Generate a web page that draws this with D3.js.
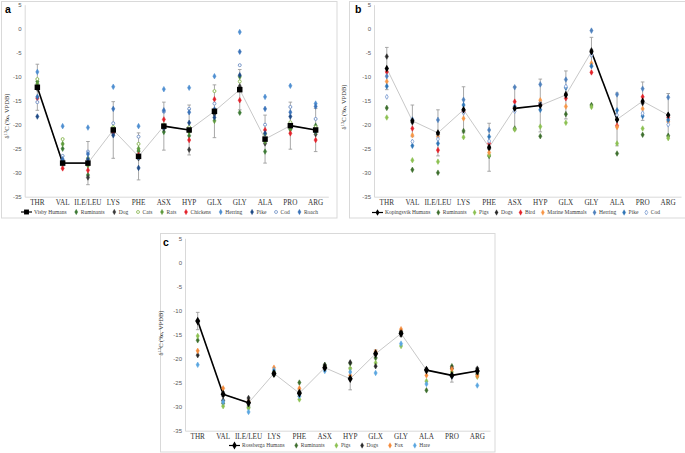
<!DOCTYPE html>
<html><head><meta charset="utf-8">
<script src="https://cdn.jsdelivr.net/npm/d3@7"></script>
<style>body{margin:0;background:#fff}svg{display:block}</style>
</head><body>
<svg id="chart" width="685" height="453"></svg>
<script>
// ---------- DATA ----------
const aminoAcids = ["THR","VAL","ILE/LEU","LYS","PHE","ASX","HYP","GLX","GLY","ALA","PRO","ARG"];
const yTicks = [5,0,-5,-10,-15,-20,-25,-30,-35];

// Panel a (Visby)
const visbyHumans   = [-12.2,-28.0,-28.0,-21.1,-26.6,-20.3,-21.1,-17.2,-12.7,-23.0,-20.2,-21.1];
const visbyHumansSD = [4.8,0.6,4.5,5.9,4.9,5.0,5.2,5.5,4.2,5.0,4.9,4.5];
const visbySolidSegments = [0,1,5,10];
const aRuminants = [-11.0,-25.0,-30.5,-20.7,-25.5,-21.5,-22.3,-17.5,-17.5,-25.6,-21.0,-20.2];
const aDog       = [-12.5,-27.5,-31.0,-21.8,-27.0,-20.8,-25.2,-17.8,-12.0,-23.9,-20.5,-22.0];
const aCats      = [-10.5,-23.0,-27.0,-20.5,-24.0,-20.0,-20.5,-13.0,-11.0,-22.0,-19.5,-20.5];
const aRats      = [-11.5,-24.0,-28.5,-21.0,-25.0,-20.5,-21.5,-19.2,-10.0,-23.5,-20.8,-21.5];
const aChickens  = [-14.5,-29.1,-29.5,-21.5,-26.3,-18.9,-23.2,-14.7,-14.9,-21.1,-21.8,-23.2];
const aHerring   = [-9.0,-20.3,-20.6,-12.1,-20.3,-12.6,-12.3,-9.9,-0.7,-14.2,-11.9,-15.6];
const aPike      = [-18.3,-27.8,-27.2,-22.2,-29.0,-20.6,-19.6,-18.5,-9.7,-21.8,-18.3,-21.3];
const aCod       = [-15.3,-26.5,-25.6,-19.7,-22.5,-17.3,-16.7,-15.6,-7.6,-20.0,-16.3,-18.8];
const aRoach     = [-14.2,-27.2,-26.1,-16.7,-26.8,-17.0,-17.4,-16.8,-4.8,-16.7,-17.4,-16.2];

// Panel b (Kopingsvik)
const kopHumans   = [-8.3,-19.2,-21.7,-16.9,-24.7,-16.6,-16.0,-13.8,-4.8,-18.9,-15.1,-18.0];
const kopHumansSD = [4.4,3.3,4.8,4.8,5.0,4.5,5.5,5.0,3.0,5.5,4.0,4.5];
const kopSolidSegments = [5,8];
const bRuminants = [-16.5,-29.4,-30.0,-21.3,-26.5,-20.8,-22.4,-17.8,-15.9,-26.0,-22.1,-22.3];
const bPigs      = [-18.5,-27.4,-27.7,-22.6,-26.3,-21.0,-20.4,-19.6,-16.3,-23.9,-20.8,-22.8];
const bDogs      = [-5.8,-19.5,-22.0,-17.0,-25.0,-16.5,-15.5,-13.6,-4.5,-19.0,-15.5,-18.0];
const bBird      = [-9.0,-20.8,-25.3,-17.3,-23.9,-15.2,-15.8,-14.5,-9.1,-20.2,-14.2,-18.5];
const bMarine    = [-11.0,-22.2,-22.5,-18.7,-25.8,-16.4,-14.9,-16.2,-7.2,-20.5,-16.7,-19.4];
const bHerring   = [-9.9,-18.9,-19.0,-14.8,-21.1,-12.2,-11.6,-10.6,-0.4,-13.7,-12.5,-14.3];
const bPike      = [-12.0,-24.4,-23.9,-15.9,-22.5,-16.2,-16.9,-12.3,-7.8,-17.0,-18.2,-19.0];
const bCod       = [-14.2,-23.5,-23.0,-17.5,-23.4,-17.2,-15.7,-12.0,-5.5,-18.0,-17.6,-20.0];

// Panel c (Rossberga)
const rosHumans   = [-12.2,-27.4,-29.2,-23.1,-27.2,-21.9,-24.2,-19.0,-14.8,-22.4,-23.5,-22.6];
const rosHumansSD = [1.8,0.5,0.6,0.5,0.7,0.4,2.3,0.8,0.6,0.4,1.4,0.7];
const rosSolidSegments = [0,1,9,10];
const cRuminants = [-16.2,-29.3,-30.1,-23.3,-25.0,-21.3,-21.0,-19.9,-14.6,-26.6,-21.6,-23.2];
const cPigs      = [-15.3,-29.9,-30.3,-22.8,-28.5,-21.6,-22.1,-20.9,-17.4,-24.7,-22.8,-23.8];
const cDogs      = [-19.3,-28.7,-28.2,-23.3,-27.0,-21.4,-20.8,-21.6,-14.4,-22.3,-22.0,-22.1];
const cFox       = [-18.4,-26.2,-29.0,-21.9,-26.2,-21.9,-23.5,-18.6,-13.9,-23.5,-22.2,-23.6];
const cHare      = [-21.3,-29.0,-31.1,-22.4,-27.8,-22.6,-22.8,-23.0,-16.9,-25.3,-23.7,-25.6];

// ---------- DRAW ----------
const svg = d3.select("#chart");
const serif = "'Liberation Serif','Times New Roman',serif";
const sans = "'Liberation Sans',Arial,sans-serif";

const panels = [
  { letter:"a", box:[1.5,1.5,335.5,216.5], letterPos:[5,13], xRange:[24.7,328.3], yRange:[196.7,4.7],
    titlePos:[9,116], legendY:212, legendSpan:[21,318],
    human:{name:"Visby Humans", values:visbyHumans, sd:visbyHumansSD, solid:visbySolidSegments, symbol:d3.symbolSquare, size:30},
    series:[
      {name:"Ruminants", values:aRuminants, color:"#3d7a35"},
      {name:"Dog", values:aDog, color:"#3a3a3a"},
      {name:"Cats", values:aCats, color:"#86b54e", hollow:true, symbol:d3.symbolCircle},
      {name:"Rats", values:aRats, color:"#5e9a3c"},
      {name:"Chickens", values:aChickens, color:"#e3222b"},
      {name:"Herring", values:aHerring, color:"#4f8fd1"},
      {name:"Pike", values:aPike, color:"#1f4a86"},
      {name:"Cod", values:aCod, color:"#6d8fc4", hollow:true, symbol:d3.symbolCircle},
      {name:"Roach", values:aRoach, color:"#3b73b9"}
    ]},
  { letter:"b", box:[349.5,1.5,340,216.5], letterPos:[355,13], xRange:[374,681], yRange:[196.7,4.7],
    titlePos:[346,107], legendY:212.5, legendSpan:[372,660],
    human:{name:"Kopingsvik Humans", values:kopHumans, sd:kopHumansSD, solid:kopSolidSegments, symbol:d3.symbolDiamond, size:16},
    series:[
      {name:"Ruminants", values:bRuminants, color:"#3d6e2d"},
      {name:"Pigs", values:bPigs, color:"#8cc152"},
      {name:"Dogs", values:bDogs, color:"#2a2a2a"},
      {name:"Bird", values:bBird, color:"#e3232a"},
      {name:"Marine Mammals", values:bMarine, color:"#f79646"},
      {name:"Herring", values:bHerring, color:"#4f81bd"},
      {name:"Pike", values:bPike, color:"#2e75b6"},
      {name:"Cod", values:bCod, color:"#7f9fd3", hollow:true}
    ]},
  { letter:"c", box:[160.5,233.5,334.5,218.5], letterPos:[163,246], xRange:[185,490], yRange:[430.7,238.3],
    titlePos:[163,333], legendY:445.5, legendSpan:[229,430],
    human:{name:"Rossberga Humans", values:rosHumans, sd:rosHumansSD, solid:rosSolidSegments, symbol:d3.symbolDiamond, size:22},
    series:[
      {name:"Ruminants", values:cRuminants, color:"#3d6e2d"},
      {name:"Pigs", values:cPigs, color:"#8cc152"},
      {name:"Dogs", values:cDogs, color:"#2a2a2a"},
      {name:"Fox", values:cFox, color:"#f58a3a"},
      {name:"Hare", values:cHare, color:"#5aa6e0"}
    ]}
];

function drawPanel(p) {
  const g = svg.append("g");
  g.append("rect").attr("x",p.box[0]).attr("y",p.box[1]).attr("width",p.box[2]).attr("height",p.box[3])
    .attr("fill","#fff").attr("stroke","#d9d9d9").attr("stroke-width",1);
  g.append("text").attr("x",p.letterPos[0]).attr("y",p.letterPos[1]).text(p.letter)
    .attr("font-family",sans).attr("font-weight","bold").attr("font-size",10.5).attr("fill","#000");

  const x = d3.scaleBand().domain(aminoAcids).range(p.xRange).padding(0);
  const cx = d => x(d) + x.bandwidth()/2;
  const y = d3.scaleLinear().domain([-35,5]).range(p.yRange);

  // y axis
  const ya = g.append("g").attr("transform",`translate(${p.xRange[0]},0)`)
    .call(d3.axisLeft(y).tickValues(yTicks).tickSize(0).tickPadding(3).tickFormat(d => String(d)));
  ya.select(".domain").attr("stroke","#d9d9d9");
  ya.selectAll("text").attr("font-family",sans).attr("font-size",6).attr("fill","#595959");

  // x axis
  const xa = g.append("g").attr("transform",`translate(0,${p.yRange[0]})`)
    .call(d3.axisBottom(x).tickSize(0).tickPadding(3));
  xa.select(".domain").attr("stroke","#d9d9d9");
  xa.selectAll("text").attr("font-family",serif).attr("font-size",7.2).attr("fill","#333");

  // y title
  const t = g.append("text").attr("transform",`translate(${p.titlePos[0]},${p.titlePos[1]}) rotate(-90)`)
    .attr("text-anchor","middle").attr("font-family",serif).attr("font-size",6.5).attr("fill","#333");
  t.append("tspan").text("δ");
  t.append("tspan").attr("font-size",4.5).attr("dy",-2.5).text("13");
  t.append("tspan").attr("dy",2.5).text("C (‰, VPDB)");

  const h = p.human;
  const pts = aminoAcids.map((a,i) => ({a, v:h.values[i], sd:h.sd[i]}));

  // human connecting line: light grey everywhere, black on solid segments
  g.append("path").datum(pts)
    .attr("d", d3.line().x(d=>cx(d.a)).y(d=>y(d.v)))
    .attr("fill","none").attr("stroke","#c8c8c8").attr("stroke-width",1);
  g.selectAll(null).data(h.solid).join("line")
    .attr("x1",i=>cx(pts[i].a)).attr("y1",i=>y(pts[i].v))
    .attr("x2",i=>cx(pts[i+1].a)).attr("y2",i=>y(pts[i+1].v))
    .attr("stroke","#000").attr("stroke-width",1.6);

  // human error bars
  const eb = g.append("g").attr("stroke","#9e9e9e").attr("stroke-width",0.9);
  eb.selectAll("line.v").data(pts).join("line").attr("class","v")
    .attr("x1",d=>cx(d.a)).attr("x2",d=>cx(d.a))
    .attr("y1",d=>y(d.v+d.sd)).attr("y2",d=>y(d.v-d.sd));
  eb.selectAll("line.t").data(pts).join("line").attr("class","t")
    .attr("x1",d=>cx(d.a)-1.8).attr("x2",d=>cx(d.a)+1.8)
    .attr("y1",d=>y(d.v+d.sd)).attr("y2",d=>y(d.v+d.sd));
  eb.selectAll("line.b").data(pts).join("line").attr("class","b")
    .attr("x1",d=>cx(d.a)-1.8).attr("x2",d=>cx(d.a)+1.8)
    .attr("y1",d=>y(d.v-d.sd)).attr("y2",d=>y(d.v-d.sd));

  // other series
  p.series.forEach(s => {
    const sym = d3.symbol().type(s.symbol || d3.symbolDiamond).size(s.hollow ? 7 : 9);
    g.append("g").selectAll("path").data(aminoAcids.map((a,i)=>({a,v:s.values[i]}))).join("path")
      .attr("d", sym)
      .attr("transform", d=>`translate(${cx(d.a)},${y(d.v)})`)
      .attr("fill", s.hollow ? "#fff" : s.color)
      .attr("stroke", s.color).attr("stroke-width", s.hollow ? 0.9 : 0.5);
  });

  // human markers on top
  g.append("g").selectAll("path").data(pts).join("path")
    .attr("d", d3.symbol().type(h.symbol).size(h.size))
    .attr("transform", d=>`translate(${cx(d.a)},${y(d.v)})`)
    .attr("fill","#000");

  // legend
  const items = [{name:h.name, human:true}].concat(p.series);
  const lg = g.append("g");
  const fs = 5.5;
  const widths = items.map(it => {
    const tt = lg.append("text").attr("font-family",serif).attr("font-size",fs).text(it.name);
    const w = tt.node().getComputedTextLength(); tt.remove(); return w;
  });
  const symW = items.map(it => it.human ? 11 : 5);
  const total = d3.sum(widths) + d3.sum(symW) + items.length*2;
  const gap = (p.legendSpan[1]-p.legendSpan[0]-total)/(items.length-1);
  let xpos = p.legendSpan[0];
  items.forEach((it,i) => {
    const ly = p.legendY;
    if (it.human) {
      lg.append("line").attr("x1",xpos).attr("x2",xpos+11).attr("y1",ly).attr("y2",ly)
        .attr("stroke","#000").attr("stroke-width",1.2);
      lg.append("path").attr("d", d3.symbol().type(h.symbol).size(h.size*0.8))
        .attr("transform",`translate(${xpos+5.5},${ly})`).attr("fill","#000");
    } else {
      lg.append("path").attr("d", d3.symbol().type(it.symbol || d3.symbolDiamond).size(it.hollow?7:9))
        .attr("transform",`translate(${xpos+2.5},${ly})`)
        .attr("fill", it.hollow ? "#fff" : it.color).attr("stroke", it.color).attr("stroke-width", it.hollow?0.8:0.3);
    }
    xpos += symW[i] + 2;
    lg.append("text").attr("x",xpos).attr("y",ly+1.9).attr("font-family",serif).attr("font-size",fs)
      .attr("fill","#404040").text(it.name);
    xpos += widths[i] + gap;
  });
}

panels.forEach(drawPanel);
</script>
</body></html>
